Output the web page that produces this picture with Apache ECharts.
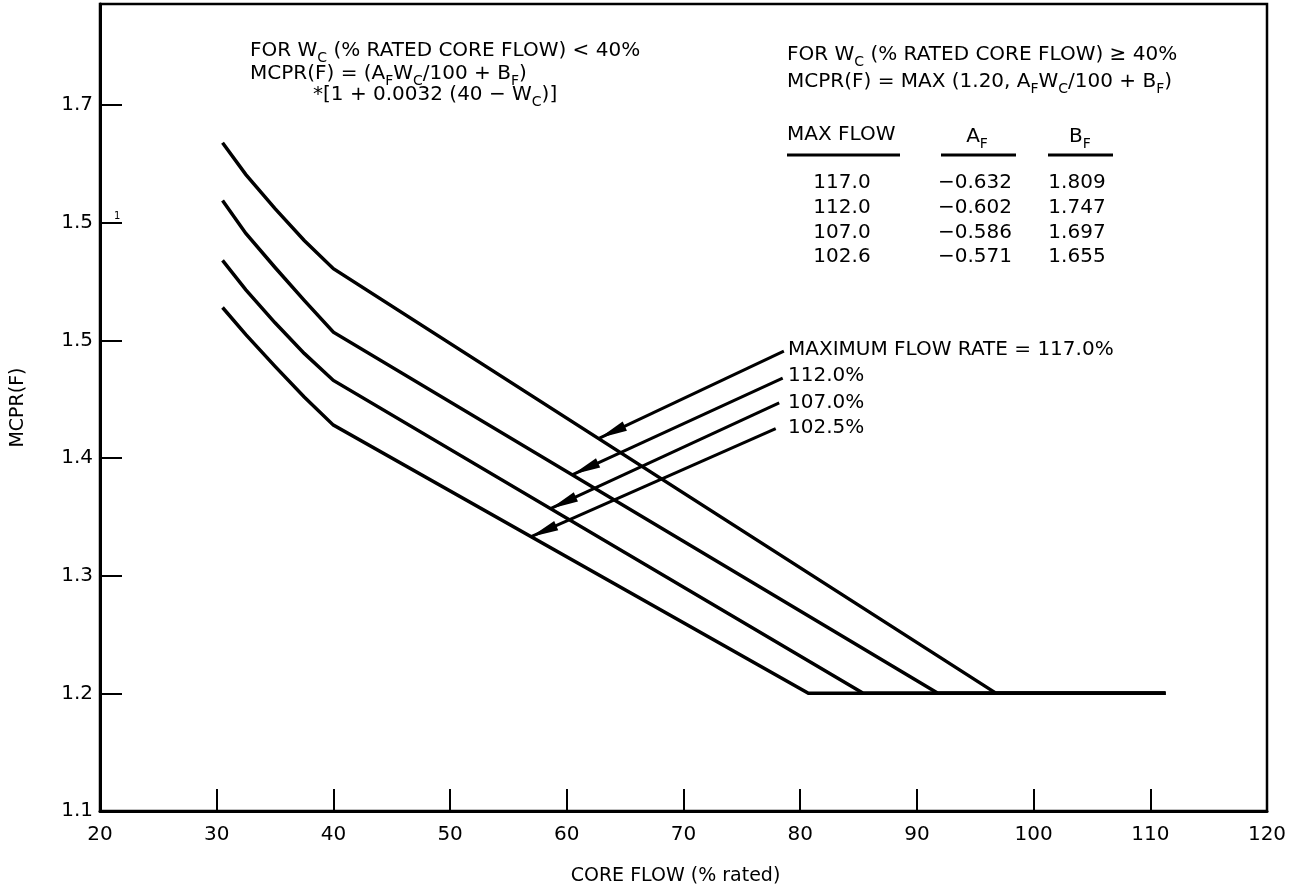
<!DOCTYPE html>
<html>
<head>
<meta charset="utf-8">
<script src="https://cdn.jsdelivr.net/npm/echarts@6/dist/echarts.min.js"></script>
<style>
html,body{margin:0;padding:0;background:#fff;}
#chart{width:1294px;height:893px;}
</style>
</head>
<body>
<div id="chart"></div>
<script>
// ---- data ----
const xTicks = [20, 30, 40, 50, 60, 70, 80, 90, 100, 110, 120];
const yTickValues = [1.1, 1.2, 1.3, 1.4, 1.5, 1.6, 1.7];
const yTickLabels = ['1.1', '1.2', '1.3', '1.4', '1.5', '1.5', '1.7'];

const curve117 = [[30.5, 1.668], [32.5, 1.641], [35, 1.612], [37.5, 1.585], [40, 1.561], [96.8, 1.2], [111.3, 1.2]];
const curve112 = [[30.5, 1.619], [32.5, 1.591], [35, 1.562], [37.5, 1.534], [40, 1.507], [91.8, 1.2], [111.3, 1.2]];
const curve107 = [[30.5, 1.568], [32.5, 1.543], [35, 1.515], [37.5, 1.489], [40, 1.466], [85.4, 1.2], [111.3, 1.2]];
const curve1025 = [[30.5, 1.528], [32.5, 1.505], [35, 1.478], [37.5, 1.452], [40, 1.428], [80.7, 1.2], [111.3, 1.2]];

// leader arrows: [start, tip] in data units
const arrows = [
  [[78.6, 1.491], [62.8, 1.417]],
  [[78.5, 1.468], [60.5, 1.386]],
  [[78.2, 1.447], [58.6, 1.357]],
  [[77.9, 1.425], [56.9, 1.333]]
];
const flowLabels = ['MAXIMUM FLOW RATE = 117.0%', '112.0%', '107.0%', '102.5%'];

const maxFlow = ['117.0', '112.0', '107.0', '102.6'];
const aF = ['\u22120.632', '\u22120.602', '\u22120.586', '\u22120.571'];
const bF = ['1.809', '1.747', '1.697', '1.655'];

// ---- chart ----
const FONT = "'DejaVu Sans', sans-serif";
const FS = 20;
const chart = echarts.init(document.getElementById('chart'));

function curveSeries(name, data) {
  return {
    name: name, type: 'line', data: data, showSymbol: false, silent: true,
    lineStyle: { color: '#000', width: 3.5, join: 'miter' }, z: 3
  };
}

const rich = {
  n: { fontSize: FS, fontFamily: FONT, color: '#000', verticalAlign: 'bottom', padding: [0, 0, 4, 0], lineHeight: 24 },
  s: { fontSize: 14, fontFamily: FONT, color: '#000', verticalAlign: 'bottom', padding: [0, 0, 0, 0], lineHeight: 15 }
};

function txt(x, y, text, align) {
  return {
    type: 'text', x: x, y: y, silent: true,
    style: { text: text, rich: rich, align: align || 'left', verticalAlign: 'middle', font: FS + 'px ' + FONT, fill: '#000' }
  };
}
function plain(x, y, text, align) {
  return { type: 'text', x: x, y: y, silent: true, style: { text: text, font: FS + 'px ' + FONT, fill: '#000', align: align || 'left', verticalAlign: 'middle' } };
}

const graphics = [];
graphics.push(txt(250, 53, '{n|FOR W}{s|C}{n| (% RATED CORE FLOW) < 40%}'));
graphics.push(txt(250, 76, '{n|MCPR(F) = (A}{s|F}{n|W}{s|C}{n|/100 + B}{s|F}{n|)}'));
graphics.push(txt(313, 97, '{n|*[1 + 0.0032 (40 \u2212 W}{s|C}{n|)]}'));
graphics.push(txt(787, 57, '{n|FOR W}{s|C}{n| (% RATED CORE FLOW) \u2265 40%}'));
graphics.push(txt(787, 84, '{n|MCPR(F) = MAX (1.20, A}{s|F}{n|W}{s|C}{n|/100 + B}{s|F}{n|)}'));
graphics.push(txt(787, 137, '{n|MAX FLOW}'));
graphics.push(txt(977, 139, '{n|A}{s|F}', 'center'));
graphics.push(txt(1080, 139, '{n|B}{s|F}', 'center'));
[[787, 900], [941, 1016], [1048, 1113]].forEach(function (u) {
  graphics.push({ type: 'line', silent: true, shape: { x1: u[0], y1: 155, x2: u[1], y2: 155 }, style: { stroke: '#000', lineWidth: 3 } });
});
const rowY = [183, 208, 233, 257];
for (let i = 0; i < maxFlow.length; i++) {
  graphics.push(plain(842, rowY[i], maxFlow[i], 'center'));
  graphics.push(plain(975, rowY[i], aF[i], 'center'));
  graphics.push(plain(1077, rowY[i], bF[i], 'center'));
}
const labelY = [350, 376, 403, 428];
for (let i = 0; i < flowLabels.length; i++) {
  graphics.push(plain(788, labelY[i], flowLabels[i], 'left'));
}
graphics.push({ type: 'text', x: 114, y: 216, silent: true, style: { text: '1', font: '10px ' + FONT, fill: '#000', align: 'left', verticalAlign: 'middle' } });

const option = {
  backgroundColor: '#fff',
  animation: false,
  grid: { left: 100, right: 27, top: 4, bottom: 82, show: true, borderColor: '#000', borderWidth: 2.5, backgroundColor: 'transparent' },
  xAxis: {
    type: 'value', min: xTicks[0], max: xTicks[xTicks.length - 1], interval: 10,
    name: 'CORE FLOW (% rated)', nameLocation: 'middle', nameGap: 56,
    nameTextStyle: { fontSize: 19, fontFamily: FONT, color: '#000', padding: [0, 16, 0, 0] },
    axisLine: { show: true, lineStyle: { color: '#000', width: 3 } },
    axisTick: { show: true, inside: true, length: 22, lineStyle: { color: '#000', width: 2 } },
    axisLabel: { color: '#000', fontSize: FS, fontFamily: FONT, margin: 14 },
    splitLine: { show: false }
  },
  yAxis: {
    type: 'value', min: 1.1, max: 1.786, interval: 0.1,
    name: 'MCPR(F)', nameLocation: 'middle', nameGap: 72, nameRotate: 90,
    nameTextStyle: { fontSize: 19, fontFamily: FONT, color: '#000' },
    axisLine: { show: true, lineStyle: { color: '#000', width: 3 } },
    axisTick: { show: true, inside: true, length: 22, lineStyle: { color: '#000', width: 2 } },
    axisLabel: {
      color: '#000', fontSize: FS, fontFamily: FONT, margin: 7, showMaxLabel: false,
      formatter: function (v) {
        for (let i = 0; i < yTickValues.length; i++) {
          if (Math.abs(yTickValues[i] - v) < 1e-6) return yTickLabels[i];
        }
        return '';
      }
    },
    splitLine: { show: false }
  },
  graphic: graphics,
  series: [
    curveSeries('117.0%', curve117),
    curveSeries('112.0%', curve112),
    curveSeries('107.0%', curve107),
    curveSeries('102.5%', curve1025),
    {
      type: 'line', data: [], silent: true,
      markLine: {
        silent: true, animation: false,
        symbol: ['none', 'triangle'],
        label: { show: false },
        lineStyle: { color: '#000', width: 3, type: 'solid' },
        emphasis: { disabled: true },
        data: arrows.map(function (a) {
          return [
            { coord: a[0], symbol: 'none' },
            { coord: a[1], symbol: 'triangle', symbolSize: [10, 28], symbolOffset: [0, '50%'] }
          ];
        })
      }
    }
  ]
};
chart.setOption(option);
</script>
</body>
</html>
